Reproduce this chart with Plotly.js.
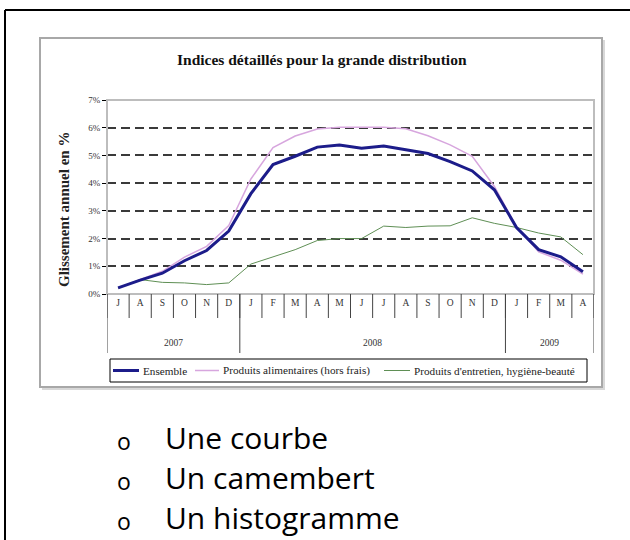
<!DOCTYPE html>
<html>
<head>
<meta charset="utf-8">
<script src="https://cdn.plot.ly/plotly-3.0.1.min.js"></script>
<style>
  html, body { margin: 0; padding: 0; background: #fff; }
  #chart { width: 630px; height: 540px; }
</style>
</head>
<body>
<div id="chart"></div>
<script>
// ---- data ----
var months = ['J','A','S','O','N','D','J','F','M','A','M','J','J','A','S','O','N','D','J','F','M','A'];
var years = ['2007','2008','2009'];
var yearMonthCounts = [6, 12, 4];
var seriesNames = ['Ensemble', 'Produits alimentaires (hors frais)', "Produits d'entretien, hygiène-beauté"];
var ensemble = [0.22,0.50,0.75,1.20,1.57,2.27,3.62,4.67,4.97,5.30,5.38,5.26,5.34,5.21,5.07,4.78,4.44,3.76,2.40,1.60,1.34,0.80];
var alimentaires = [0.22,0.52,0.82,1.33,1.72,2.47,4.15,5.28,5.70,5.95,6.02,6.02,6.02,5.96,5.71,5.38,4.97,3.88,2.42,1.52,1.22,0.72];
var entretien = [0.22,0.52,0.42,0.40,0.34,0.40,1.08,1.35,1.60,1.93,2.00,2.00,2.45,2.40,2.45,2.46,2.75,2.55,2.40,2.20,2.06,1.42];
var yTicks = [0,1,2,3,4,5,6,7];
var bullets = ['Une courbe', 'Un camembert', 'Un histogramme'];

// ---- styles ----
var colors = ['#1c1c8a', '#d7a6de', '#5f8f55'];
var widths = [3, 1.5, 1];

// ---- geometry helpers (pixel -> paper) ----
var W = 630, H = 540;
var mL = 107, mR = 36, mT = 100, mB = 246;
var pw = W - mL - mR, ph = H - mT - mB;
function PX(x) { return (x - mL) / pw; }
function PY(y) { return (H - mB - y) / ph; }

var idx = months.map(function(_, i) { return i; });
var serif = 'Liberation Serif, Times New Roman, serif';

var traces = [
  {x: idx, y: alimentaires, type: 'scatter', mode: 'lines', name: seriesNames[1],
   line: {color: colors[1], width: widths[1]}},
  {x: idx, y: entretien, type: 'scatter', mode: 'lines', name: seriesNames[2],
   line: {color: colors[2], width: widths[2]}},
  {x: idx, y: ensemble, type: 'scatter', mode: 'lines', name: seriesNames[0],
   line: {color: colors[0], width: widths[0]}}
];

var shapes = [];
// outer frame
shapes.push({type: 'line', xref: 'paper', yref: 'paper', x0: PX(5), x1: PX(640), y0: PY(10), y1: PY(10), line: {color: '#000', width: 2}, layer: 'below'});
shapes.push({type: 'line', xref: 'paper', yref: 'paper', x0: PX(5), x1: PX(5), y0: PY(10), y1: PY(545), line: {color: '#000', width: 2}, layer: 'below'});
// chart box shadow + box
shapes.push({type: 'rect', xref: 'paper', yref: 'paper', x0: PX(42), x1: PX(605), y0: PY(40), y1: PY(390), line: {width: 0}, fillcolor: '#d8d8d8', layer: 'below'});
shapes.push({type: 'rect', xref: 'paper', yref: 'paper', x0: PX(40), x1: PX(602), y0: PY(38), y1: PY(387), line: {color: '#a8a8a8', width: 2}, fillcolor: '#fff', layer: 'below'});
// plot area border (top/right gray)
shapes.push({type: 'rect', xref: 'paper', yref: 'paper', x0: 0, x1: 1, y0: 0, y1: 1, line: {color: '#bdbdbd', width: 2}, layer: 'above'});
// month dividers
for (var i = 0; i <= months.length; i++) {
  shapes.push({type: 'line', xref: 'x', yref: 'paper', x0: i - 0.5, x1: i - 0.5, y0: 0, y1: PY(318), line: {color: '#444', width: 1}});
}
// year dividers
var b = -0.5;
var yearBounds = [b];
yearMonthCounts.forEach(function(c) { b += c; yearBounds.push(b); });
yearBounds.forEach(function(v) {
  shapes.push({type: 'line', xref: 'x', yref: 'paper', x0: v, x1: v, y0: 0, y1: PY(353), line: {color: '#444', width: 1}});
});

var annotations = [];
// chart title
annotations.push({xref: 'paper', yref: 'paper', x: PX(322), y: PY(59), text: '<b>Indices détaillés pour la grande distribution</b>',
  showarrow: false, font: {family: serif, size: 15.5, color: '#111'}, xanchor: 'center', yanchor: 'middle'});
// y title
annotations.push({xref: 'paper', yref: 'paper', x: PX(64), y: PY(210), text: '<b>Glissement annuel en %</b>', textangle: -90,
  showarrow: false, font: {family: serif, size: 15, color: '#222'}, xanchor: 'center', yanchor: 'middle'});
// year labels
var start = 0;
years.forEach(function(yr, k) {
  var c = yearMonthCounts[k];
  annotations.push({xref: 'x', yref: 'paper', x: start + (c - 1) / 2, y: PY(343), text: yr, showarrow: false,
    font: {family: serif, size: 9.5, color: '#333'}, xanchor: 'center', yanchor: 'middle'});
  start += c;
});

// legend (drawn as a boxed row, like the original)
var legY = 370.5;
shapes.push({type: 'rect', xref: 'paper', yref: 'paper', x0: PX(110), x1: PX(587), y0: PY(359), y1: PY(382), line: {color: '#000', width: 1}, fillcolor: '#fff'});
var legSample = [[113, 139], [195, 219], [384, 410]];
var legText = [141, 221, 412];
seriesNames.forEach(function(n, k) {
  shapes.push({type: 'line', xref: 'paper', yref: 'paper', x0: PX(legSample[k][0]), x1: PX(legSample[k][1]), y0: PY(legY), y1: PY(legY),
    line: {color: colors[k], width: widths[k]}});
  annotations.push({xref: 'paper', yref: 'paper', x: PX(legText[k]), y: PY(legY), text: n, showarrow: false,
    font: {family: serif, size: 11.2, color: '#222'}, xanchor: 'left', yanchor: 'middle'});
});

// bullets
var sans = 'Open Sans, sans-serif';
var bulletY = [437, 477, 517];
bullets.forEach(function(t, k) {
  annotations.push({xref: 'paper', yref: 'paper', x: PX(124), y: PY(bulletY[k] + 4), text: 'o', showarrow: false,
    font: {family: sans, size: 23, color: '#000'}, xanchor: 'center', yanchor: 'middle'});
  annotations.push({xref: 'paper', yref: 'paper', x: PX(163), y: PY(bulletY[k]), text: t, showarrow: false,
    font: {family: sans, size: 30, color: '#000'}, xanchor: 'left', yanchor: 'middle'});
});

var layout = {
  width: W, height: H,
  margin: {l: mL, r: mR, t: mT, b: mB, pad: 0},
  paper_bgcolor: '#fff', plot_bgcolor: '#fff',
  showlegend: false,
  xaxis: {range: [-0.5, months.length - 0.5], tickmode: 'array', tickvals: idx, ticktext: months,
    ticks: '', showgrid: false, zeroline: false, showline: true, linecolor: '#000', linewidth: 1,
    tickfont: {family: serif, size: 9.5, color: '#333'}, fixedrange: true},
  yaxis: {range: [0, 7], tickmode: 'array', tickvals: yTicks, ticktext: yTicks.map(function(v) { return v + '%'; }),
    ticks: 'outside', ticklen: 4, tickcolor: '#000', showline: true, linecolor: '#000', linewidth: 1,
    showgrid: true, gridcolor: '#3a3a3a', gridwidth: 2, griddash: '9px,5px', zeroline: false,
    tickfont: {family: serif, size: 9, color: '#333'}, fixedrange: true},
  shapes: shapes,
  annotations: annotations
};

Plotly.newPlot('chart', traces, layout, {displayModeBar: false, staticPlot: true});
</script>
</body>
</html>
